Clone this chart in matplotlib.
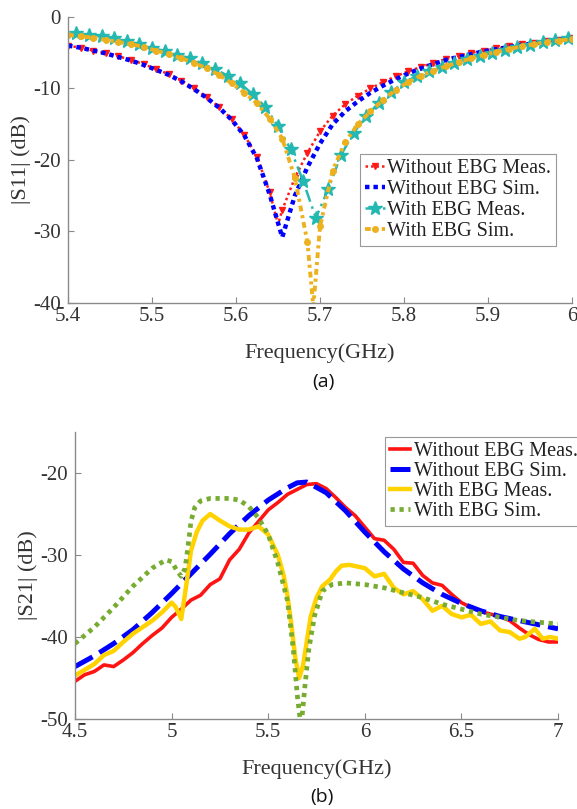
import matplotlib
matplotlib.use("Agg")
import matplotlib.pyplot as plt

plt.rcParams['font.family'] = ['Liberation Serif', 'DejaVu Serif']
plt.rcParams['axes.unicode_minus'] = False

# ---------------- (a) |S11| ----------------
f_grid = [5.4, 5.415, 5.43, 5.445, 5.46, 5.475, 5.49, 5.505, 5.52, 5.535,
          5.55, 5.565, 5.58, 5.595, 5.61, 5.625, 5.64, 5.655, 5.67, 5.685,
          5.7, 5.715, 5.73, 5.745, 5.76, 5.775, 5.79, 5.805, 5.82, 5.835,
          5.85, 5.865, 5.88, 5.895, 5.91, 5.925, 5.94, 5.955, 5.97, 5.985, 6.0]

# without EBG, measured (extra point at 5.65 for the dip)
f_wo_meas = f_grid[:17] + [5.65] + f_grid[17:]
s11_wo_meas = [-4.0, -4.3, -4.7, -5.1, -5.5, -6.0, -6.6, -7.3, -8.0, -8.9,
               -10.0, -11.2, -12.6, -14.3, -16.5, -19.6, -24.5, -29.0, -27.0, -22.5,
               -19.0, -16.0, -13.8, -12.2, -11.0, -10.0, -9.1, -8.3, -7.6, -7.0,
               -6.4, -5.9, -5.4, -5.0, -4.7, -4.4, -4.1, -3.8, -3.6, -3.4, -3.2, -3.0]

# without EBG, simulated
s11_wo_sim = [-4.0, -4.3, -4.7, -5.1, -5.6, -6.1, -6.7, -7.4, -8.1, -9.0,
              -10.1, -11.3, -12.7, -14.4, -16.6, -19.8, -24.8, -30.8, -25.0, -21.0,
              -17.7, -15.0, -13.2, -11.8, -10.6, -9.6, -8.7, -7.9, -7.2, -6.6,
              -6.0, -5.6, -5.2, -4.8, -4.5, -4.2, -3.9, -3.7, -3.4, -3.2, -3.0]

# with EBG, measured
f_w_meas = [5.41, 5.425, 5.44, 5.455, 5.47, 5.485, 5.5, 5.515, 5.53, 5.545,
            5.56, 5.575, 5.59, 5.605, 5.62, 5.635, 5.65, 5.665, 5.68, 5.695,
            5.71, 5.725, 5.74, 5.755, 5.77, 5.785, 5.8, 5.815, 5.83, 5.845,
            5.86, 5.875, 5.89, 5.905, 5.92, 5.935, 5.95, 5.965, 5.98, 5.995]
s11_w_meas = [-2.3, -2.5, -2.7, -3.0, -3.4, -3.8, -4.3, -4.8, -5.3, -5.8,
              -6.5, -7.3, -8.2, -9.3, -10.8, -12.6, -15.3, -18.5, -23.0, -28.1,
              -24.0, -19.3, -16.2, -13.9, -12.0, -10.5, -9.1, -8.3, -7.6, -7.0,
              -6.4, -5.9, -5.4, -5.0, -4.6, -4.2, -3.9, -3.5, -3.2, -2.9]

# with EBG, simulated (extra point at 5.692 for the deep notch)
f_w_sim = f_grid[:20] + [5.692] + f_grid[20:]
s11_w_sim = [-2.5, -2.7, -2.9, -3.2, -3.5, -3.8, -4.2, -4.7, -5.2, -5.8,
             -6.4, -7.2, -8.1, -9.3, -10.6, -12.1, -14.2, -17.0, -22.5, -31.5,
             -40.5, -29.3, -21.5, -17.5, -15.0, -13.2, -11.6, -10.2, -9.1, -8.2,
             -7.5, -6.9, -6.3, -5.8, -5.3, -4.9, -4.5, -4.1, -3.8, -3.5, -3.3, -3.1]

# ---------------- (b) |S21| ----------------
f_b_wo_meas = [4.5, 4.55, 4.6, 4.65, 4.7, 4.75, 4.8, 4.85, 4.9, 4.95,
               5.0, 5.05, 5.1, 5.15, 5.2, 5.25, 5.3, 5.35, 5.4, 5.45,
               5.5, 5.55, 5.6, 5.65, 5.7, 5.75, 5.8, 5.85, 5.9, 5.95,
               6.0, 6.05, 6.1, 6.15, 6.2, 6.25, 6.3, 6.35, 6.4, 6.45,
               6.5, 6.55, 6.6, 6.65, 6.7, 6.75, 6.8, 6.85, 6.9, 6.95, 7.0]
s21_wo_meas = [-45.4, -44.6, -44.2, -43.4, -43.6, -42.8, -41.9, -40.8, -39.8, -38.9,
               -37.6, -36.6, -35.5, -34.9, -33.6, -32.9, -30.6, -29.3, -27.3, -25.9,
               -24.5, -23.6, -22.6, -22.0, -21.4, -21.3, -21.9, -23.0, -24.2, -25.2,
               -26.6, -28.0, -28.2, -29.3, -30.9, -31.0, -32.5, -33.4, -33.7, -34.8,
               -35.8, -36.4, -36.9, -37.2, -37.5, -38.0, -38.9, -39.7, -40.3, -40.6, -40.6]

f_b_wo_sim = [4.5, 4.6, 4.7, 4.8, 4.9, 5.0, 5.1, 5.2, 5.3, 5.4, 5.5, 5.6, 5.65,
              5.7, 5.8, 5.9, 6.0, 6.1, 6.2, 6.3, 6.4, 6.5, 6.6, 6.7, 6.8, 6.9, 7.0]
s21_wo_sim = [-43.6, -42.3, -40.8, -39.1, -37.0, -34.7, -32.3, -29.9, -27.4, -25.2, -23.3,
              -21.8, -21.2, -21.1, -22.4, -24.6, -27.2, -29.6, -31.7, -33.4, -34.8,
              -35.9, -36.8, -37.5, -38.0, -38.5, -39.0]

f_b_w_meas = [4.5, 4.55, 4.6, 4.65, 4.7, 4.75, 4.8, 4.85, 4.9, 4.95,
              5.0, 5.02, 5.05, 5.06, 5.08, 5.1, 5.13, 5.16, 5.2, 5.25,
              5.3, 5.35, 5.4, 5.45, 5.5, 5.55, 5.58, 5.6, 5.62, 5.64,
              5.66, 5.68, 5.7, 5.72, 5.75, 5.78, 5.82, 5.85, 5.88, 5.92,
              5.96, 6.0, 6.05, 6.1, 6.15, 6.2, 6.25, 6.3, 6.35, 6.4,
              6.45, 6.5, 6.55, 6.6, 6.65, 6.7, 6.75, 6.8, 6.83, 6.88,
              6.92, 6.96, 7.0]
s21_w_meas = [-44.7, -44.0, -43.3, -42.2, -41.7, -40.6, -39.6, -38.8, -38.0, -37.0,
              -35.8, -36.3, -37.8, -36.2, -33.0, -29.5, -27.2, -25.8, -25.0, -25.8,
              -26.5, -26.9, -26.9, -26.5, -27.5, -30.0, -32.5, -35.0, -38.5, -42.5,
              -45.0, -43.5, -40.5, -37.5, -35.2, -33.8, -33.0, -32.0, -31.3, -31.2,
              -31.4, -31.6, -32.6, -32.3, -34.0, -34.8, -34.4, -35.4, -36.8, -36.2,
              -37.2, -37.6, -37.3, -38.4, -38.1, -39.2, -39.4, -40.2, -40.0, -39.0,
              -40.2, -40.0, -40.2]

f_b_w_sim = [4.5, 4.6, 4.7, 4.8, 4.9, 4.97, 5.0, 5.03, 5.05, 5.07,
             5.09, 5.1, 5.12, 5.15, 5.2, 5.3, 5.35, 5.4, 5.45, 5.5,
             5.55, 5.6, 5.63, 5.65, 5.67, 5.69, 5.71, 5.74, 5.78, 5.83,
             5.9, 6.0, 6.1, 6.2, 6.3, 6.4, 6.5, 6.6, 6.7, 6.8, 6.9, 7.0]
s21_w_sim = [-40.8, -38.8, -36.4, -33.8, -31.6, -30.6, -30.8, -32.0, -32.6, -31.6,
             -28.0, -25.9, -24.2, -23.4, -23.1, -23.1, -23.3, -24.1, -25.5, -27.5,
             -31.0, -35.6, -41.5, -47.0, -51.0, -46.0, -41.5, -37.4, -34.4, -33.6,
             -33.4, -33.6, -34.0, -34.6, -35.2, -36.0, -36.6, -37.2, -37.6, -38.0, -38.2, -38.4]

labels = ['Without EBG Meas.', 'Without EBG Sim.', 'With EBG Meas.', 'With EBG Sim.']

axis_col = '#8a8a8a'
text_col = '#333333'


def style_axes(ax):
    for side in ['top', 'right']:
        ax.spines[side].set_visible(False)
    for side in ['left', 'bottom']:
        ax.spines[side].set_color(axis_col)
        ax.spines[side].set_linewidth(1.0)
    ax.tick_params(direction='in', length=4, width=0.8, color=axis_col,
                   labelcolor=text_col, labelsize=15)
    ax.tick_params(axis='x', pad=3)
    ax.tick_params(axis='y', pad=5)


fig = plt.figure(figsize=(5.77, 8.09), dpi=100)

# ---- (a)
ax1 = fig.add_axes([0.1179, 0.6255, 0.8735, 0.3535])
grid_marks = [i for i, f in enumerate(f_wo_meas) if f != 5.65]
ax1.plot(f_wo_meas, s11_wo_meas, linestyle=(0, (1, 1.2)), color='#ff1a1a', lw=1.8,
         marker='v', ms=4.5, markevery=grid_marks, label=labels[0])
ax1.plot(f_grid, s11_wo_sim, linestyle=(0, (1, 0.9)), color='#0000ff', lw=3.2,
         label=labels[1])
ax1.plot(f_w_meas, s11_w_meas, linestyle=(0, (5, 2, 1, 2)), color='#24b8b2', lw=1.8,
         marker='*', ms=10, label=labels[2])
gold_marks = [i for i, f in enumerate(f_w_sim) if f != 5.692]
ax1.plot(f_w_sim, s11_w_sim, linestyle=(0, (1.5, 1, 0.8, 1)), color='#edb120', lw=2.8,
         marker='o', ms=4, markevery=gold_marks, label=labels[3])
ax1.set_xlim(5.4, 6.0)
ax1.set_ylim(-40, 0)
ax1.set_xticks([5.4, 5.5, 5.6, 5.7, 5.8, 5.9, 6.0])
ax1.set_xticklabels(['5.4', '5.5', '5.6', '5.7', '5.8', '5.9', '6'])
ax1.set_yticks([-40, -30, -20, -10, 0])
style_axes(ax1)
ax1.set_xlabel('Frequency(GHz)', fontsize=16, color=text_col, labelpad=12)
ax1.set_ylabel('|S11| (dB)', fontsize=16, color=text_col, labelpad=2)
leg1 = ax1.legend(loc='upper left', bbox_to_anchor=(0.579, 0.521), borderaxespad=0,
                  fontsize=14.5, frameon=True, fancybox=False, framealpha=1,
                  edgecolor='#999999', borderpad=0.25, labelspacing=0.1,
                  handlelength=1.0, handletextpad=0.1)
leg1.get_frame().set_linewidth(0.8)
for t in leg1.get_texts():
    t.set_color('#222222')

# ---- (b)
ax2 = fig.add_axes([0.130, 0.1112, 0.8371, 0.3548])
ax2.plot(f_b_wo_meas, s21_wo_meas, '-', color='#ff1414', lw=2.6, label=labels[0])
ax2.plot(f_b_wo_sim, s21_wo_sim, linestyle=(0, (4, 1.6)), color='#0000ff', lw=3.6,
         label=labels[1])
ax2.plot(f_b_w_meas, s21_w_meas, '-', color='#ffd200', lw=3.2, label=labels[2])
ax2.plot(f_b_w_sim, s21_w_sim, linestyle=(0, (0.9, 1.0)), color='#77ac30', lw=3.4,
         label=labels[3])
ax2.set_xlim(4.5, 7.0)
ax2.set_ylim(-50, -15)
ax2.set_xticks([4.5, 5, 5.5, 6, 6.5, 7])
ax2.set_xticklabels(['4.5', '5', '5.5', '6', '6.5', '7'])
ax2.set_yticks([-50, -40, -30, -20])
style_axes(ax2)
ax2.set_xlabel('Frequency(GHz)', fontsize=16, color=text_col, labelpad=12)
ax2.set_ylabel('|S21| (dB)', fontsize=16, color=text_col, labelpad=2)
leg2 = ax2.legend(loc='upper left', bbox_to_anchor=(0.642, 0.983), borderaxespad=0,
                  fontsize=14.5, frameon=True, fancybox=False, framealpha=1,
                  edgecolor='#999999', borderpad=0.25, labelspacing=0.05,
                  handlelength=1.0, handletextpad=0.2)
leg2.get_frame().set_linewidth(0.8)
for t in leg2.get_texts():
    t.set_color('#222222')

fig.text(0.560, 1 - 382 / 809, '(a)', ha='center', va='center', fontsize=14,
         family=['Open Sans', 'DejaVu Sans'], color='#111111')
fig.text(0.558, 1 - 797 / 809, '(b)', ha='center', va='center', fontsize=14,
         family=['Open Sans', 'DejaVu Sans'], color='#111111')

fig.savefig('out.png', dpi=100)
